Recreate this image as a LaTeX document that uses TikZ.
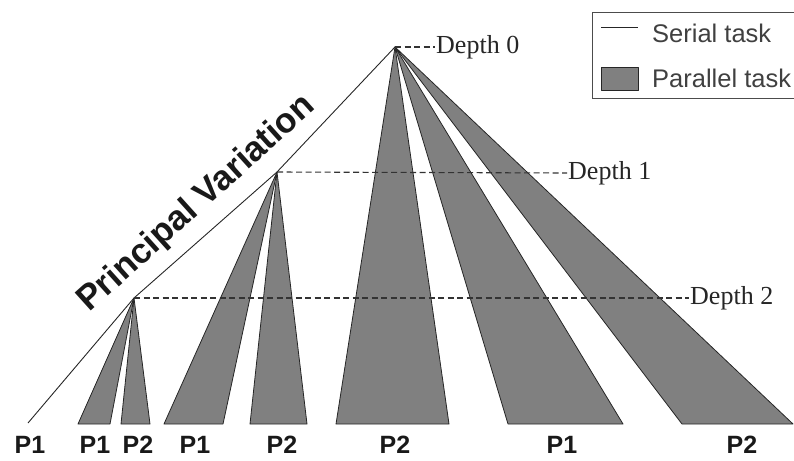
\documentclass[tikz,border=0pt]{standalone}
\usepackage{fontspec}
\setmainfont{Liberation Serif}
\setsansfont{Liberation Sans}
\begin{document}
\begin{tikzpicture}[x=1pt,y=-1pt,
  serial/.style={line width=0.9pt, draw=black!85},
  par/.style={fill=black!50, draw=black!85, line width=0.8pt, line join=round},
  depthline/.style={dashed, dash pattern=on 6pt off 3.5pt, line width=1.1pt, draw=black!80},
  depthlbl/.style={anchor=west, inner sep=1pt, font=\fontsize{26}{28}\selectfont, text=black!85},
  plbl/.style={font=\sffamily\bfseries\fontsize{25}{27}\selectfont, text=black!90, inner sep=0pt},
  leglbl/.style={anchor=west, inner sep=0pt, font=\sffamily\fontsize{25.5}{27}\selectfont, text=black!75}]
\useasboundingbox (0,0) rectangle (794,460);
% vertices
\coordinate (root) at (395,47);
\coordinate (d1) at (277,172);
\coordinate (d2) at (134,298);
\coordinate (leaf) at (28,423);
% parallel tasks
\draw[par] (d2) -- (78,424) -- (110,424) -- cycle;
\draw[par] (d2) -- (121,424) -- (150,424) -- cycle;
\draw[par] (d1) -- (164,424) -- (223,424) -- cycle;
\draw[par] (d1) -- (250,424) -- (307,424) -- cycle;
\draw[par] (root) -- (336,424) -- (449,424) -- cycle;
\draw[par] (root) -- (508,424) -- (623,424) -- cycle;
\draw[par] (root) -- (682,424) -- (793,424) -- cycle;
% serial task (principal variation)
\draw[serial] (root) -- (d1) -- (d2) -- (leaf);
% depth markers
\node[depthlbl] (dep0) at (435,47) {Depth 0};
\node[depthlbl] (dep1) at (567,173) {Depth 1};
\node[depthlbl] (dep2) at (689,298) {Depth 2};
\draw[depthline] (root) -- (dep0.west);
\draw[depthline] (d1) -- (dep1.west);
\draw[depthline] (d2) -- (dep2.west);
% principal variation label
\node[font=\sffamily\bfseries\fontsize{35}{37}\selectfont, text=black!90, rotate=42, inner sep=0pt] (pv) at (197,204) {Principal Variation};
% processor labels
\node[plbl] (p1) at (30,445) {P1};
\node[plbl] (p2) at (95,445) {P1};
\node[plbl] (p3) at (138,445) {P2};
\node[plbl] (p4) at (195,445) {P1};
\node[plbl] (p5) at (282,445) {P2};
\node[plbl] (p6) at (395,445) {P2};
\node[plbl] (p7) at (562,445) {P1};
\node[plbl] (p8) at (742,445) {P2};
% legend
\draw[line width=0.9pt, draw=black!70] (794,12) -- (592,12) -- (592,98) -- (794,98);
\coordinate (ls1) at (601,27);
\coordinate (ls2) at (638,27);
\draw[serial] (ls1) -- (ls2);
\node[leglbl] (lser) at (652,33) {Serial task};
\draw[par] (601,67) rectangle (638,90);
\node[leglbl] (lpar) at (652,78) {Parallel task};
\end{tikzpicture}
\end{document}
